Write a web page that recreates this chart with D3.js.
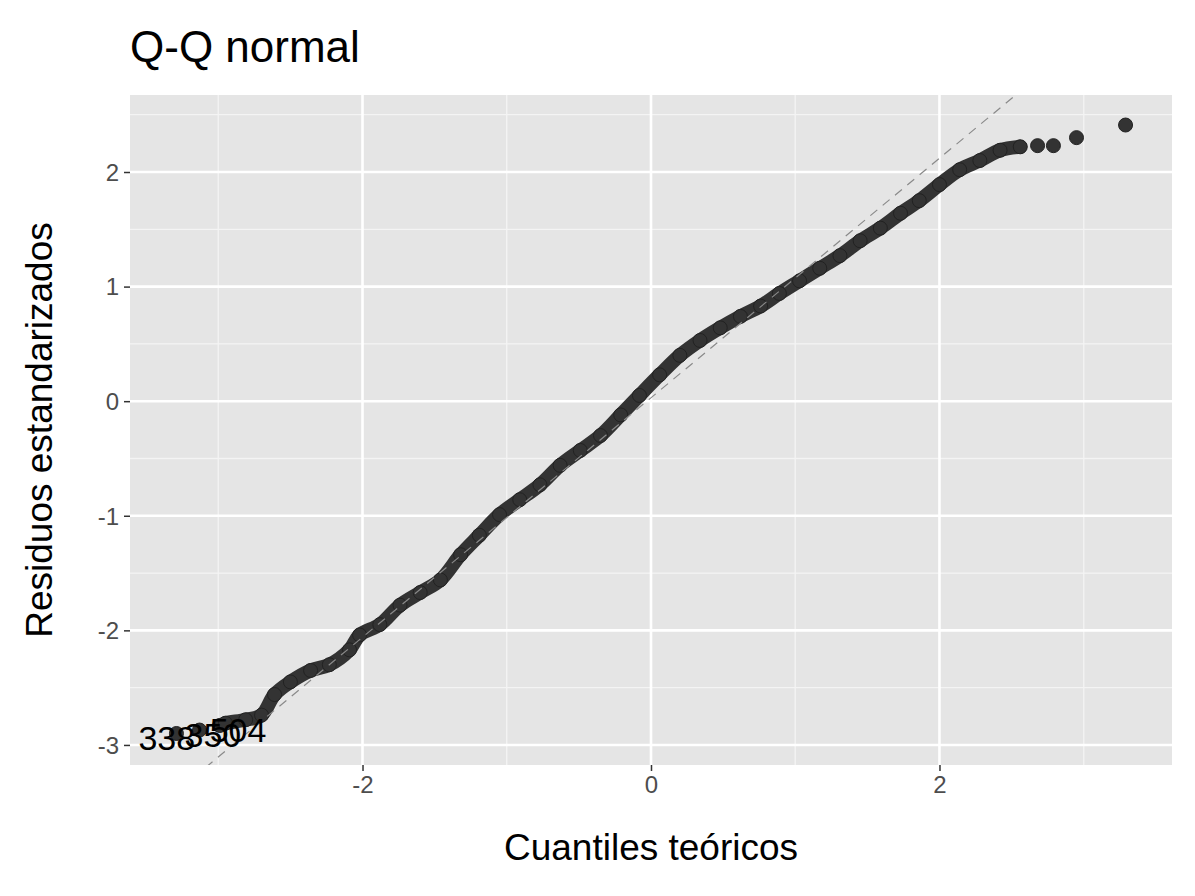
<!DOCTYPE html>
<html>
<head>
<meta charset="utf-8">
<script src="https://cdn.jsdelivr.net/npm/d3@7"></script>
<style>
  body { margin: 0; background: #fff; }
  text { font-family: Arial, "Liberation Sans", sans-serif; }
</style>
</head>
<body>
<svg id="chart" width="1195" height="896"></svg>
<script>
// theoretical quantiles and standardized residuals
const theoretical = [-3.29, -3.13, -2.99, -2.95, -2.81, -2.70, -2.61, -2.50, -2.36, -2.23, -2.09, -2.02,
  -1.88, -1.74, -1.60, -1.46, -1.32, -1.19, -1.05, -0.91, -0.77, -0.63, -0.49, -0.35, -0.21, -0.08,
  0.06, 0.20, 0.34, 0.48, 0.62, 0.76, 0.89, 1.03, 1.17, 1.31, 1.45, 1.59, 1.73, 1.86, 2.00, 2.14,
  2.28, 2.42, 2.56, 2.68, 2.79, 2.95, 3.29];
const residuals = [-2.90, -2.87, -2.83, -2.81, -2.78, -2.74, -2.56, -2.45, -2.35, -2.30, -2.17, -2.04,
  -1.95, -1.78, -1.67, -1.56, -1.34, -1.17, -0.99, -0.86, -0.73, -0.56, -0.43, -0.30, -0.12, 0.05,
  0.23, 0.40, 0.53, 0.64, 0.74, 0.83, 0.94, 1.05, 1.16, 1.27, 1.40, 1.51, 1.64, 1.75, 1.89, 2.02,
  2.10, 2.19, 2.22, 2.23, 2.23, 2.30, 2.41];
// indices of the dense run (drawn as a thick trace) and of the labelled outliers
const denseEnd = 45;
const outlierIdx = [0, 1, 2];
const outlierLabels = ["338", "350", "504"];
const refLine = {intercept: 0.03, slope: 1.045};
const xTicks = [-2, 0, 2];
const yTicks = [-3, -2, -1, 0, 1, 2];
const xMinor = [-3, -1, 1, 3];
const yMinor = [-2.5, -1.5, -0.5, 0.5, 1.5, 2.5];

const svg = d3.select('#chart');
const panel = {left: 130, right: 1172, top: 95, bottom: 765};

const x = d3.scaleLinear().domain([-3.612, 3.612]).range([panel.left, panel.right]);
const y = d3.scaleLinear().domain([-3.175, 2.672]).range([panel.bottom, panel.top]);

svg.append('rect')
    .attr('x', panel.left).attr('y', panel.top)
    .attr('width', panel.right - panel.left).attr('height', panel.bottom - panel.top)
    .attr('fill', '#e5e5e5');

const grid = svg.append('g');
grid.selectAll('.vmin').data(xMinor).enter().append('line')
    .attr('x1', d => x(d)).attr('x2', d => x(d)).attr('y1', panel.top).attr('y2', panel.bottom)
    .attr('stroke', '#f4f4f4').attr('stroke-width', 1.3);
grid.selectAll('.hmin').data(yMinor).enter().append('line')
    .attr('y1', d => y(d)).attr('y2', d => y(d)).attr('x1', panel.left).attr('x2', panel.right)
    .attr('stroke', '#f4f4f4').attr('stroke-width', 1.3);
grid.selectAll('.vmaj').data(xTicks).enter().append('line')
    .attr('x1', d => x(d)).attr('x2', d => x(d)).attr('y1', panel.top).attr('y2', panel.bottom)
    .attr('stroke', '#fff').attr('stroke-width', 2.6);
grid.selectAll('.hmaj').data(yTicks).enter().append('line')
    .attr('y1', d => y(d)).attr('y2', d => y(d)).attr('x1', panel.left).attr('x2', panel.right)
    .attr('stroke', '#fff').attr('stroke-width', 2.6);

svg.append('clipPath').attr('id', 'clip').append('rect')
    .attr('x', panel.left).attr('y', panel.top)
    .attr('width', panel.right - panel.left).attr('height', panel.bottom - panel.top);
const plot = svg.append('g').attr('clip-path', 'url(#clip)');

// dense run of points as a thick trace plus markers
const pts = theoretical.map((t, i) => [t, residuals[i]]);
plot.append('path')
    .datum(pts.slice(2, denseEnd))
    .attr('d', d3.line().x(d => x(d[0])).y(d => y(d[1])).curve(d3.curveCatmullRom))
    .attr('fill', 'none').attr('stroke', '#333').attr('stroke-width', 14)
    .attr('stroke-linecap', 'round').attr('stroke-linejoin', 'round');
plot.selectAll('circle').data(pts).enter().append('circle')
    .attr('cx', d => x(d[0])).attr('cy', d => y(d[1])).attr('r', 7)
    .attr('fill', '#333').attr('stroke', '#222').attr('stroke-width', 1);

plot.append('line')
    .attr('x1', x(-3.6)).attr('y1', y(refLine.intercept + refLine.slope * -3.6))
    .attr('x2', x(3.6)).attr('y2', y(refLine.intercept + refLine.slope * 3.6))
    .attr('stroke', '#8a8a8a').attr('stroke-width', 1.2).attr('stroke-dasharray', '9,7');

// outlier labels (they overlap in the original too)
const labelShift = [-38, -15, -10];
svg.selectAll('.lab').data(outlierIdx).enter().append('text')
    .attr('x', (d, i) => x(theoretical[d]) + labelShift[i]).attr('y', d => y(residuals[d]) + 17)
    .attr('font-size', 34).attr('fill', '#000')
    .text((d, i) => outlierLabels[i]);

// axes
const fmt = d => String(d);
const xAxis = svg.append('g').attr('transform', `translate(0,${panel.bottom})`)
    .call(d3.axisBottom(x).tickValues(xTicks).tickSize(6).tickPadding(5).tickFormat(fmt));
const yAxis = svg.append('g').attr('transform', `translate(${panel.left},0)`)
    .call(d3.axisLeft(y).tickValues(yTicks).tickSize(6).tickPadding(5).tickFormat(fmt));
[xAxis, yAxis].forEach(a => {
  a.select('.domain').remove();
  a.selectAll('line').attr('stroke', '#333').attr('stroke-width', 1.5);
  a.selectAll('text').attr('font-size', 24).attr('fill', '#4d4d4d')
      .style('font-family', 'Arial, "Liberation Sans", sans-serif');
});
yAxis.selectAll('text').attr('dy', '0.35em');

svg.append('text').attr('x', 651).attr('y', 860).attr('text-anchor', 'middle')
    .attr('font-size', 37).text('Cuantiles teóricos');
svg.append('text').attr('transform', 'translate(52,430) rotate(-90)').attr('text-anchor', 'middle')
    .attr('font-size', 37).text('Residuos estandarizados');
svg.append('text').attr('x', 130).attr('y', 62).attr('font-size', 44).text('Q-Q normal');
</script>
</body>
</html>
